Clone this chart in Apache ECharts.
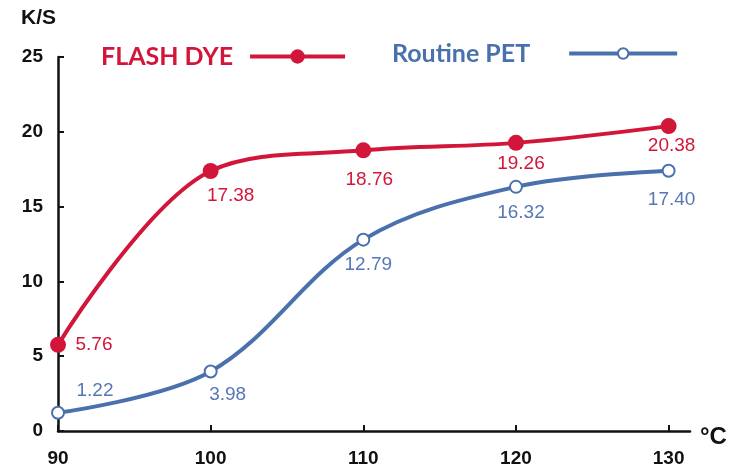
<!DOCTYPE html>
<html>
<head>
<meta charset="utf-8">
<script src="https://cdn.jsdelivr.net/npm/echarts@6/dist/echarts.min.js"></script>
<style>
  html, body { margin: 0; padding: 0; background: #fff; }
  #chart { width: 730px; height: 472px; }
</style>
</head>
<body>
<div id="chart"></div>
<script>
const temperatures = [90, 100, 110, 120, 130];
const xTickLabels = [90, 100, 110, 120, 130];
const yTickLabels = [0, 5, 10, 15, 20, 25];
const flashDye = [5.76, 17.38, 18.76, 19.26, 20.38];
const routinePet = [1.22, 3.98, 12.79, 16.32, 17.40];
const seriesNames = ['FLASH DYE', 'Routine PET'];

const RED = '#d2163a';
const BLUE = '#4a70ad';
const BLUE_LABEL = '#5577b5';

// label placement (style only), text center relative to point
const redOffsets = [[36, 0], [20, 25], [6, 29], [5, 21], [3, 20]];
const blueOffsets = [[37, -22], [17, 23], [5, 25], [5, 26], [3, 29]];

function buildData(values, offsets, color) {
  return temperatures.map((t, i) => ({
    value: [t, values[i]],
    label: {
      show: true,
      position: 'inside',
      offset: offsets[i],
      formatter: values[i].toFixed(2),
      color: color,
      fontSize: 19,
      fontFamily: 'Liberation Sans, Arial, sans-serif',
      align: 'center',
      verticalAlign: 'middle'
    }
  }));
}

const chart = echarts.init(document.getElementById('chart'), null, { renderer: 'canvas' });
const axisFont = { color: '#111', fontSize: 19, fontWeight: 'bold', fontFamily: 'Liberation Sans, Arial, sans-serif' };

chart.setOption({
  animation: false,
  backgroundColor: '#fff',
  grid: { left: 58, right: 40, top: 57, bottom: 41, containLabel: false },
  legend: [
    {
      data: [seriesNames[0]],
      left: 96, top: 39,
      align: 'right',
      itemWidth: 95, itemHeight: 18,
      lineStyle: { width: 4 },
      textStyle: { color: RED, fontSize: 25, fontWeight: 'bold', fontFamily: 'Lato, sans-serif', padding: [0, 12, 0, 0] }
    },
    {
      data: [seriesNames[1]],
      left: 387, top: 36,
      align: 'right',
      itemWidth: 108, itemHeight: 13,
      lineStyle: { width: 4 },
      itemStyle: { borderWidth: 3.5 },
      textStyle: { color: BLUE, fontSize: 25, fontWeight: 'bold', fontFamily: 'Lato, sans-serif', padding: [0, 34, 0, 0] }
    }
  ],
  xAxis: {
    type: 'value',
    min: 90, max: 131.4,
    name: '°C',
    nameLocation: 'end',
    nameGap: 10,
    nameTextStyle: { color: '#111', fontSize: 24, fontWeight: 'bold', fontFamily: 'Liberation Sans, Arial, sans-serif', verticalAlign: 'top', padding: [-6, 0, 0, 0] },
    axisLine: { lineStyle: { color: '#111', width: 2.5 } },
    axisTick: { inside: true, length: 6, lineStyle: { color: '#111', width: 2 }, customValues: xTickLabels },
    axisLabel: Object.assign({ margin: 18, customValues: xTickLabels }, axisFont),
    splitLine: { show: false }
  },
  yAxis: {
    type: 'value',
    min: 0, max: 25, interval: 5,
    name: 'K/S',
    nameLocation: 'end',
    nameGap: 28,
    nameTextStyle: { color: '#111', fontSize: 21, fontWeight: 'bold', fontFamily: 'Liberation Sans, Arial, sans-serif', align: 'right', padding: [0, 2, 0, 0] },
    axisLine: { show: true, lineStyle: { color: '#111', width: 2.5 } },
    axisTick: { show: true, inside: true, length: 6, lineStyle: { color: '#111', width: 2 }, customValues: yTickLabels },
    axisLabel: Object.assign({ margin: 15, customValues: yTickLabels }, axisFont),
    splitLine: { show: false }
  },
  series: [
    {
      name: seriesNames[0],
      type: 'line',
      smooth: 0.35,
      symbol: 'circle',
      symbolSize: 16,
      z: 3,
      lineStyle: { color: RED, width: 4 },
      itemStyle: { color: RED },
      data: buildData(flashDye, redOffsets, RED)
    },
    {
      name: seriesNames[1],
      type: 'line',
      smooth: 0.35,
      symbol: 'emptyCircle',
      symbolSize: 12,
      z: 2,
      lineStyle: { color: BLUE, width: 4 },
      itemStyle: { color: BLUE, borderColor: BLUE, borderWidth: 3.5 },
      data: buildData(routinePet, blueOffsets, BLUE_LABEL)
    }
  ]
});
</script>
</body>
</html>
